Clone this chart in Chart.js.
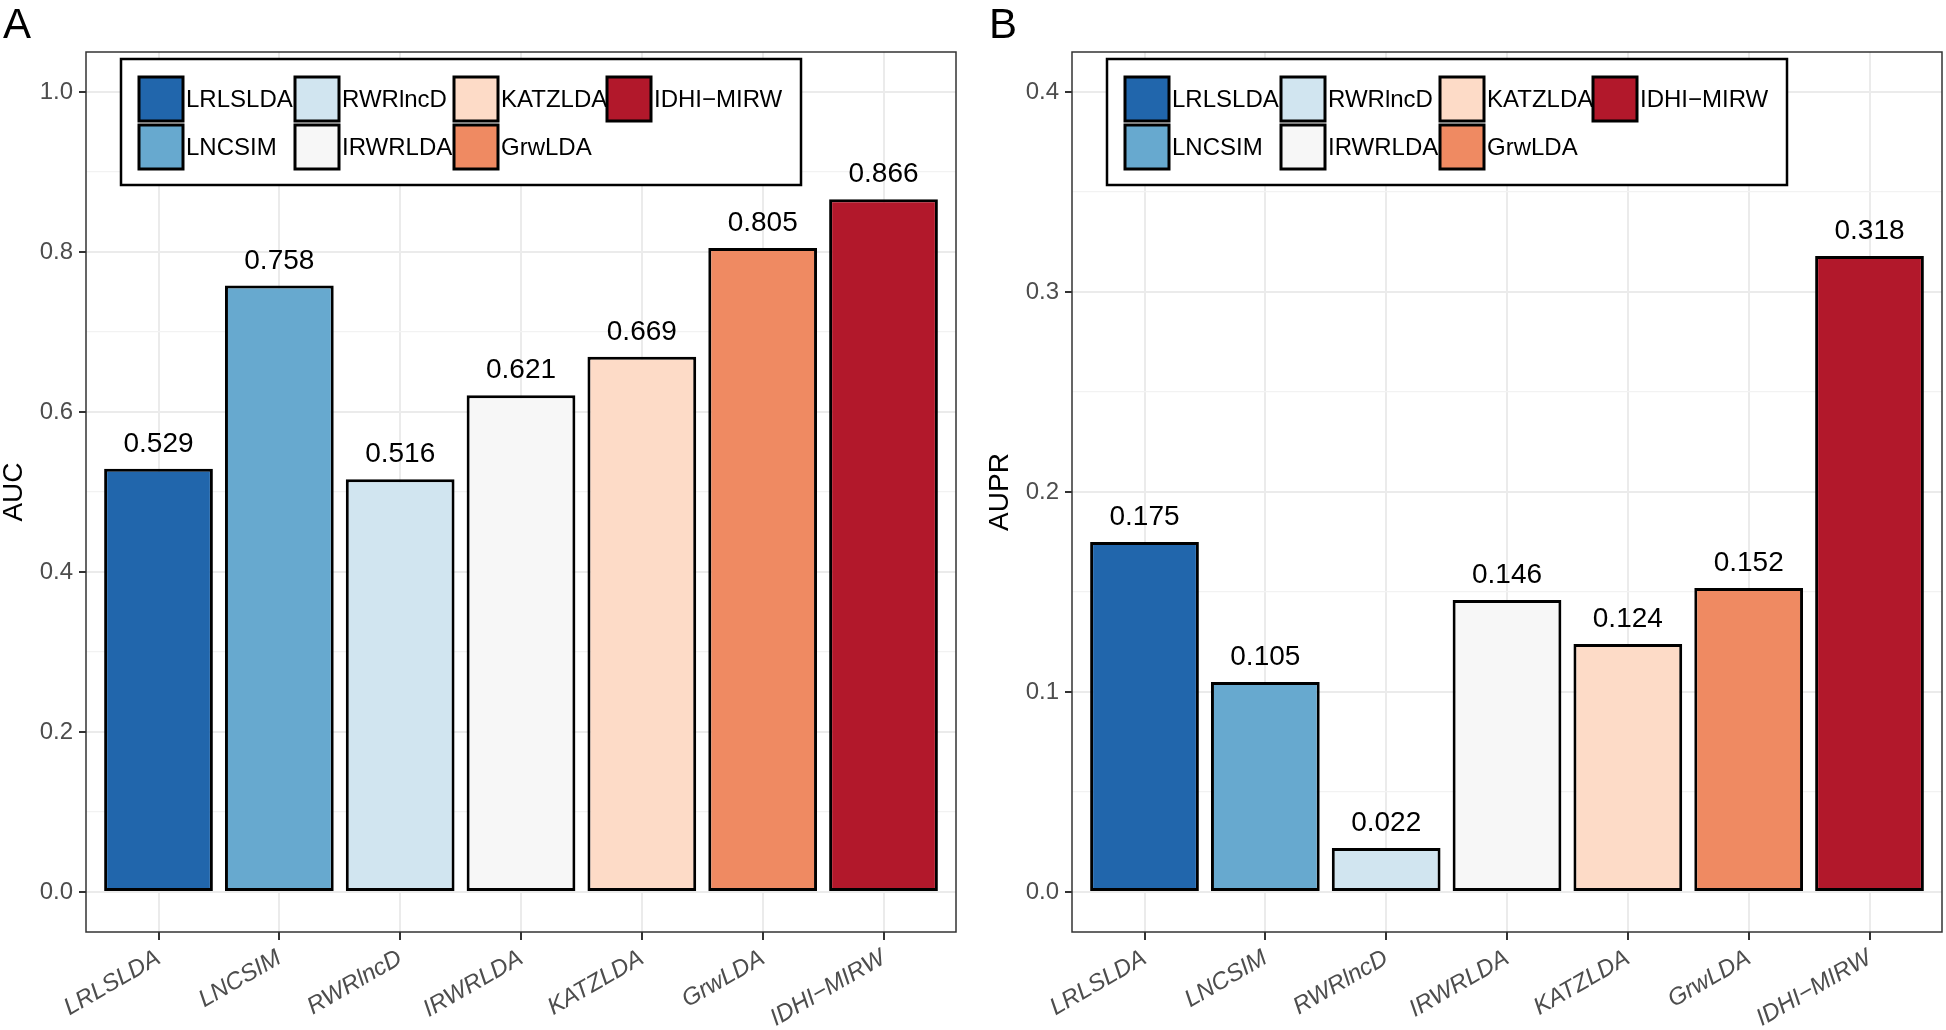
<!DOCTYPE html>
<html lang="en">
<head>
    <meta charset="UTF-8">
    <title>AUC / AUPR comparison</title>
    <script src="https://cdn.jsdelivr.net/npm/chart.js"></script>
    <style>
        body { margin: 0; background: #fff; overflow: hidden; }
        .panel { position: absolute; top: 0; }
    </style>
</head>
<body>
    <canvas id="aucChart" class="panel" style="left:0" width="973" height="1030"></canvas>
    <canvas id="auprChart" class="panel" style="left:973px" width="973" height="1030"></canvas>

    <script>
        // Data
        const methods = ['LRLSLDA', 'LNCSIM', 'RWRlncD', 'IRWRLDA', 'KATZLDA', 'GrwLDA', 'IDHI\u2212MIRW'];
        const methodColors = ['#2166AC', '#67A9CF', '#D1E5F0', '#F7F7F7', '#FDDBC7', '#EF8A62', '#B2182B'];
        const aucValues = [0.529, 0.758, 0.516, 0.621, 0.669, 0.805, 0.866];
        const auprValues = [0.175, 0.105, 0.022, 0.146, 0.124, 0.152, 0.318];

        // y axis breaks
        const aucMajorTicks = [0, 0.2, 0.4, 0.6, 0.8, 1.0];
        const aucMinorTicks = [0.1, 0.3, 0.5, 0.7, 0.9];
        const auprMajorTicks = [0, 0.1, 0.2, 0.3, 0.4];
        const auprMinorTicks = [0.05, 0.15, 0.25, 0.35];

        const FONT = '"Liberation Sans", Arial, Helvetica, sans-serif';

        // value labels, panel border, legend box and panel letter
        const panelDecor = {
            id: 'panelDecor',
            afterDatasetsDraw(chart) {
                const ctx = chart.ctx;
                const meta = chart.getDatasetMeta(0);
                const data = chart.data.datasets[0].data;
                ctx.save();
                ctx.fillStyle = '#000';
                ctx.font = '28px ' + FONT;
                ctx.textAlign = 'center';
                ctx.textBaseline = 'alphabetic';
                meta.data.forEach((bar, i) => {
                    ctx.fillText(data[i].y.toFixed(3), bar.x, bar.y - 17);
                });
                ctx.restore();
            },
            afterDraw(chart, args, opts) {
                const ctx = chart.ctx;
                const area = chart.chartArea;
                ctx.save();
                // panel border
                ctx.strokeStyle = '#333333';
                ctx.lineWidth = 1.5;
                ctx.strokeRect(area.left, area.top, area.right - area.left, area.bottom - area.top);

                // legend
                const bx = area.left + 35, by = 59;
                ctx.fillStyle = '#fff';
                ctx.fillRect(bx, by, 680, 126);
                ctx.strokeStyle = '#000';
                ctx.lineWidth = 2.5;
                ctx.strokeRect(bx, by, 680, 126);
                const cols = [53, 209, 368, 521];
                ctx.font = '24px ' + FONT;
                ctx.textAlign = 'left';
                ctx.textBaseline = 'middle';
                methods.forEach((name, i) => {
                    const kx = area.left + cols[Math.floor(i / 2)];
                    const ky = 77 + (i % 2) * 48;
                    ctx.fillStyle = methodColors[i];
                    ctx.fillRect(kx, ky, 44, 44);
                    ctx.strokeStyle = '#000';
                    ctx.lineWidth = 3;
                    ctx.strokeRect(kx, ky, 44, 44);
                    ctx.fillStyle = '#000';
                    ctx.fillText(name, kx + 47, ky + 23);
                });

                // panel letter
                ctx.fillStyle = '#000';
                ctx.font = '42px ' + FONT;
                ctx.textBaseline = 'alphabetic';
                ctx.fillText(opts.letter, opts.letterX, 38);
                ctx.restore();
            }
        };

        function makeChart(id, values, majors, minors, yMin, yMax, title, letter, letterX, padLeft, padRight) {
            const allTicks = majors.concat(minors).sort((a, b) => a - b);
            const isMajor = v => majors.includes(v);
            new Chart(document.getElementById(id), {
                type: 'bar',
                data: {
                    datasets: [{
                        data: values.map((v, i) => ({ x: i, y: v })),
                        backgroundColor: methodColors,
                        borderColor: '#000',
                        borderWidth: 3,
                        borderSkipped: false,
                        categoryPercentage: 1,
                        barPercentage: 0.9
                    }]
                },
                options: {
                    responsive: false,
                    animation: false,
                    layout: { padding: { top: 52, left: padLeft, right: padRight, bottom: 0 } },
                    plugins: {
                        legend: { display: false },
                        tooltip: { enabled: false },
                        panelDecor: { letter: letter, letterX: letterX }
                    },
                    scales: {
                        x: {
                            type: 'linear',
                            min: -0.6,
                            max: 6.6,
                            bounds: 'data',
                            offset: false,
                            afterBuildTicks: s => { s.ticks = methods.map((m, i) => ({ value: i })); },
                            afterFit: s => { s.height = 98; },
                            border: { display: false },
                            grid: {
                                offset: false,
                                color: '#EBEBEB',
                                lineWidth: 2,
                                tickColor: '#333333',
                                tickWidth: 2,
                                tickLength: 8
                            },
                            ticks: {
                                autoSkip: false,
                                minRotation: 30,
                                maxRotation: 30,
                                padding: 4,
                                color: '#4D4D4D',
                                font: { family: FONT, size: 24, style: 'italic' },
                                callback: (v, i) => methods[i]
                            }
                        },
                        y: {
                            min: yMin,
                            max: yMax,
                            bounds: 'data',
                            afterBuildTicks: s => { s.ticks = allTicks.map(v => ({ value: v })); },
                            afterFit: s => { s.width = 86; },
                            border: { display: false },
                            grid: {
                                color: c => isMajor(c.tick.value) ? '#EBEBEB' : '#F2F2F2',
                                lineWidth: c => isMajor(c.tick.value) ? 2 : 1.2,
                                tickColor: c => isMajor(c.tick.value) ? '#333333' : 'rgba(0,0,0,0)',
                                tickWidth: 2,
                                tickLength: 7
                            },
                            ticks: {
                                autoSkip: false,
                                padding: 6,
                                color: '#4D4D4D',
                                font: { family: FONT, size: 24 },
                                callback: v => isMajor(v) ? v.toFixed(1) : ''
                            },
                            title: {
                                display: true,
                                text: title,
                                color: '#000',
                                padding: 0,
                                font: { family: FONT, size: 28, lineHeight: 1 }
                            }
                        }
                    }
                },
                plugins: [panelDecor]
            });
        }

        makeChart('aucChart', aucValues, aucMajorTicks, aucMinorTicks, -0.05, 1.05, 'AUC', 'A', 3, 0, 17);
        makeChart('auprChart', auprValues, auprMajorTicks, auprMinorTicks, -0.02, 0.42, 'AUPR', 'B', 16, 13, 4);
    </script>
</body>
</html>
